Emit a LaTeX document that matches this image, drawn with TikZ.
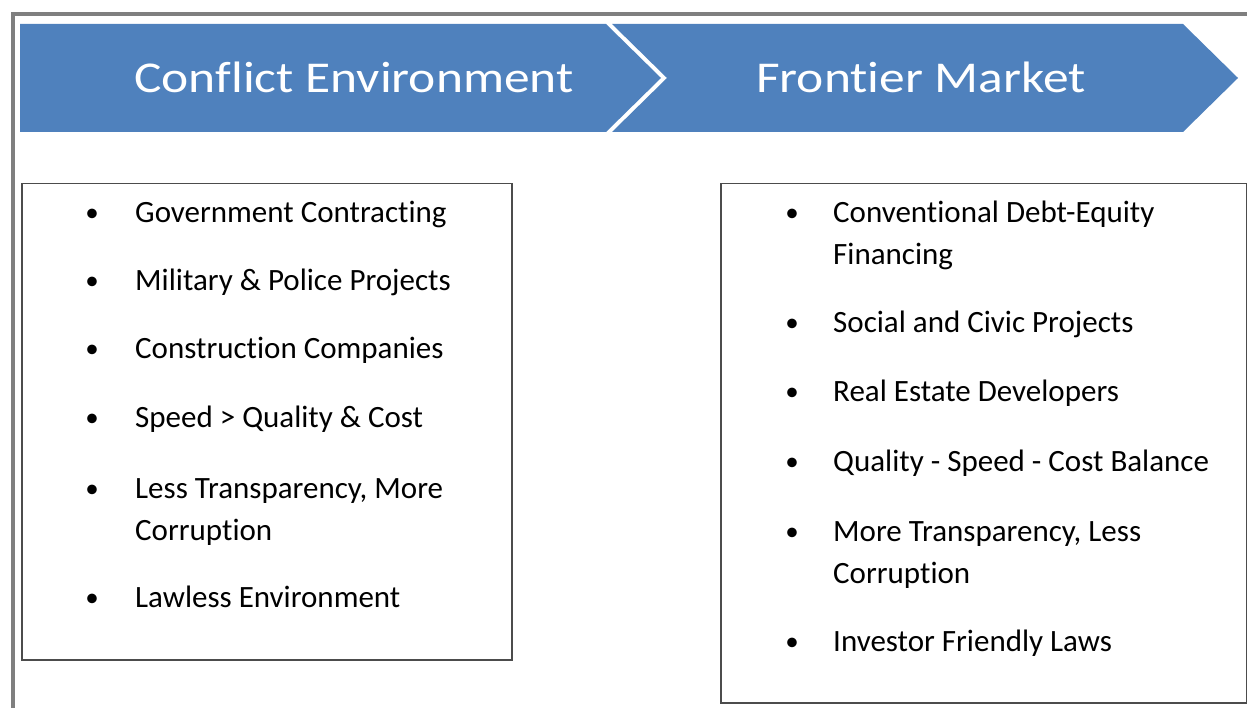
\documentclass[tikz,border=0pt]{standalone}
\usepackage{fontspec}
\setmainfont[Ligatures=NoCommon]{Carlito}
\newfontfamily\headfont[FakeStretch=1.17,Ligatures=NoCommon]{Carlito}
\usetikzlibrary{positioning}
\definecolor{chevblue}{HTML}{4F81BD}
\definecolor{framegray}{HTML}{7F7F7F}

\begin{document}
\begin{tikzpicture}[x=1pt,y=-1pt,
  chev/.style={fill=chevblue,draw=none},
  head/.style={text=white,font=\headfont\fontsize{44}{54}\selectfont,inner sep=0pt,anchor=base west},
  panel/.style={draw=black!70,line width=1.5pt,fill=white,anchor=north west,inner sep=0pt},
  itm/.style={font=\fontsize{31}{42}\selectfont,align=left,inner sep=0pt,anchor=base west},
  dot/.style={font=\fontsize{27}{42}\selectfont,inner sep=0pt,anchor=base}]
  \useasboundingbox (0,0) rectangle (1247,708);
  % window frame
  \draw[framegray,line width=4pt] (13,708) -- (13,14) -- (1247,14);
  % the two stage chevrons
  \fill[chev] (20,24) -- (606,24) -- (661,78) -- (606,132) -- (20,132) -- cycle;
  \fill[chev] (612,24) -- (1183,24) -- (1238,78) -- (1183,132) -- (612,132) -- (667,78) -- cycle;
  \node[head] (conf) at (134,93) {Conflict Environment};
  \node[head] (front) at (756,93) {Frontier Market};
  % left panel (multi-line items sit on their last baseline)
  \node[panel,minimum width=490,minimum height=476] (lbox) at (21,183) {};
  \node[itm] (l1) at (135,223) {Government Contracting};
  \node[itm] (l2) at (135,291) {Military \& Police Projects};
  \node[itm] (l3) at (135,359) {Construction Companies};
  \node[itm] (l4) at (135,427) {Speed > Quality \& Cost};
  \node[itm] (l5) at (135,540) {Less Transparency, More\\Corruption};
  \node[itm] (l6) at (135,607) {Lawless Environment};
  \foreach \y [count=\i] in {222,290,358,426,497,606}
    \node[dot] (lb\i) at (92,\y) {\textbullet};
  % right panel
  \node[panel,minimum width=526,minimum height=519] (rbox) at (720,183) {};
  \node[itm] (r1) at (833,265) {Conventional Debt-Equity\\Financing};
  \node[itm] (r2) at (833,333) {Social and Civic Projects};
  \node[itm] (r3) at (833,401) {Real Estate Developers};
  \node[itm] (r4) at (833,471) {Quality - Speed - Cost Balance};
  \node[itm] (r5) at (833,583) {More Transparency, Less\\Corruption};
  \node[itm] (r6) at (833,651) {Investor Friendly Laws};
  \foreach \y [count=\i] in {222,332,400,470,540,650}
    \node[dot] (rb\i) at (792,\y) {\textbullet};
\end{tikzpicture}
\end{document}
